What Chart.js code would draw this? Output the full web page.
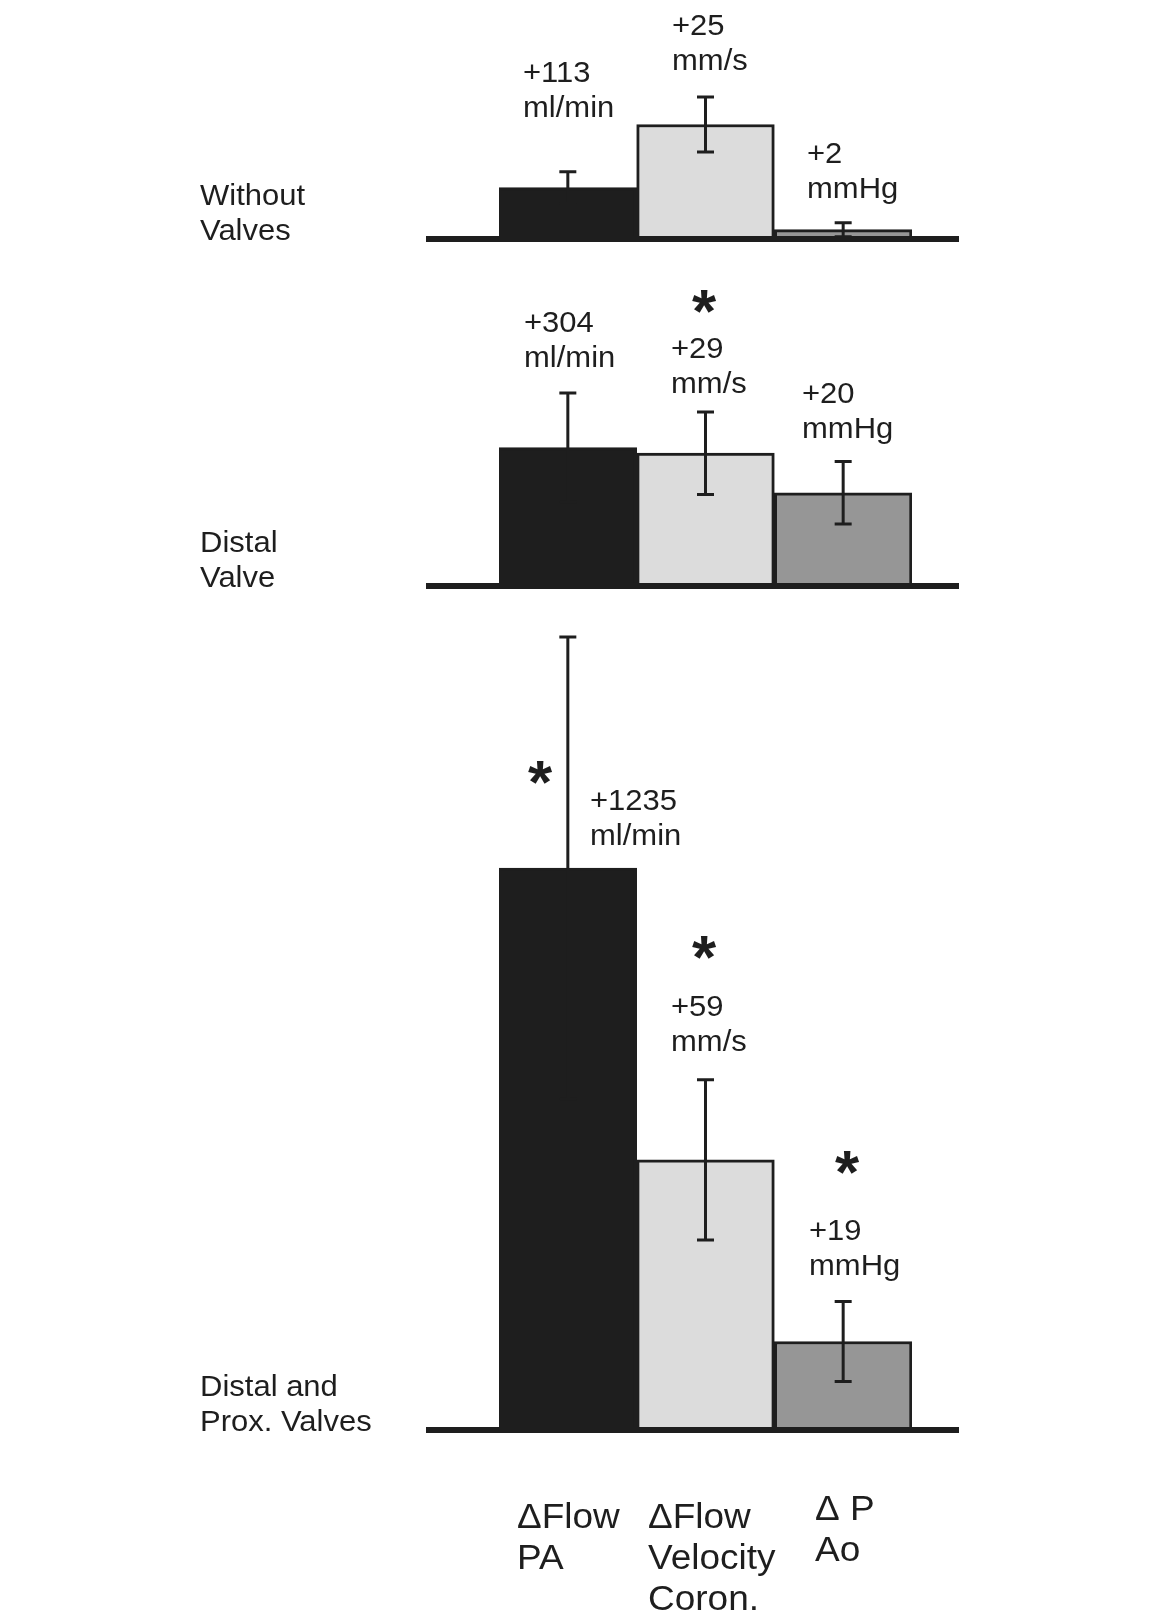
<!DOCTYPE html>
<html>
<head>
<meta charset="utf-8">
<script src="https://cdn.jsdelivr.net/npm/chart.js@4/dist/chart.umd.min.js"></script>
<style>
  html, body { margin: 0; padding: 0; background: #fff; }
  #page { position: relative; width: 1151px; height: 1617px; overflow: hidden; background: #fff; }
  #page canvas { position: absolute; left: 0; }
</style>
</head>
<body>
<div id="page">
  <canvas id="panel0"></canvas>
  <canvas id="panel1"></canvas>
  <canvas id="panel2"></canvas>
</div>
<script>
// ---- data ----
const categories = ['ΔFlow PA', 'ΔFlow Velocity Coron.', 'Δ P Ao'];
const categoryLines = [['ΔFlow', 'PA'], ['ΔFlow', 'Velocity', 'Coron.'], ['Δ P', 'Ao']];
const conditions = [['Without', 'Valves'], ['Distal', 'Valve'], ['Distal and', 'Prox. Valves']];
const units = ['ml/min', 'mm/s', 'mmHg'];

const flowPA = [113, 304, 1235];          // ml/min
const flowPA_SD = [35, 120, 508];
const velocityCoron = [25, 29, 59];       // mm/s
const velocityCoron_SD = [6, 9, 17.5];
const pressureAo = [2, 20, 19];           // mmHg
const pressureAo_SD = [1.5, 6.7, 8.6];
const significant = [
  [false, false, false],
  [false, true, false],
  [true, true, true]
];

// ---- layout & style ----
const W = 1151;
const PLOT_LEFT = 499, PLOT_RIGHT = 912;
const AXIS = { left: 426, right: 959, width: 6 };
const PX_PER_UNIT = { yFlow: 0.455, yVel: 4.58, yP: 4.66 };
const INK = '#1e1e1e';
const FILLS = ['#1e1e1e', '#dcdcdc', '#969696'];
const AXIS_IDS = ['yFlow', 'yVel', 'yP'];
const FONT = '"Liberation Sans", Arial, Helvetica, sans-serif';

const panels = [
  { top: 0, height: 260, base: 239, nameY: 205,
    labels: [[523, 82], [672, 35], [807, 163]],
    stars: [null, null, null] },
  { top: 260, height: 340, base: 586, nameY: 552,
    labels: [[524, 332], [671, 358], [802, 403]],
    stars: [null, [704, 301], null] },
  { top: 600, height: 1017, base: 1430, nameY: 1396,
    labels: [[590, 810], [671, 1016], [809, 1240]],
    stars: [[540, 772], [704, 947], [847, 1162]] }
];
const CAT_X = [517, 648, 815];
const CAT_Y = [1528, 1528, 1520];

const values = [flowPA, velocityCoron, pressureAo];
const sds = [flowPA_SD, velocityCoron_SD, pressureAo_SD];

function drawText(ctx, text, x, y, font, sx, sy) {
  ctx.save();
  ctx.translate(x, y);
  ctx.scale(sx, sy);
  ctx.font = font;
  ctx.fillText(text, 0, 0);
  ctx.restore();
}

// error bars drawn from each bar element and its own value scale
const errorBars = {
  id: 'errorBars',
  afterDatasetsDraw(chart) {
    const ctx = chart.ctx;
    const p = chart.options.plugins.errorBars.panel;
    ctx.save();
    ctx.strokeStyle = INK;
    ctx.lineWidth = 3;
    chart.data.datasets.forEach((ds, j) => {
      const el = chart.getDatasetMeta(j).data[j];
      const sc = chart.scales[ds.yAxisID];
      const v = values[j][p], sd = sds[j][p];
      const yt = sc.getPixelForValue(v + sd);
      const yb = sc.getPixelForValue(Math.max(0, v - sd));
      const x = el.x, cap = 8.5;
      ctx.beginPath();
      ctx.moveTo(x, yt); ctx.lineTo(x, yb);
      ctx.moveTo(x - cap, yt); ctx.lineTo(x + cap, yt);
      ctx.moveTo(x - cap, yb); ctx.lineTo(x + cap, yb);
      ctx.stroke();
    });
    ctx.restore();
  }
};

// baseline, value labels, significance marks, condition and category names
const annotations = {
  id: 'annotations',
  afterDraw(chart) {
    const ctx = chart.ctx;
    const p = chart.options.plugins.annotations.panel;
    const cfg = panels[p];
    const off = cfg.top;
    ctx.save();
    ctx.fillStyle = INK;
    // base line
    const zero = chart.scales.yFlow.getPixelForValue(0);
    ctx.fillRect(AXIS.left, zero - AXIS.width / 2, AXIS.right - AXIS.left, AXIS.width);

    ctx.textAlign = 'left';
    ctx.textBaseline = 'alphabetic';
    // value labels
    for (let j = 0; j < 3; j++) {
      const [lx, ly] = cfg.labels[j];
      drawText(ctx, '+' + values[j][p], lx, ly - off, '31px ' + FONT, 1, 0.96);
      drawText(ctx, units[j], lx, ly + 35 - off, '31px ' + FONT, 1, 0.96);
    }
    // significance asterisks
    ctx.font = 'bold 62px ' + FONT;
    ctx.textAlign = 'center';
    const m = ctx.measureText('*');
    const shift = (m.actualBoundingBoxAscent - m.actualBoundingBoxDescent) / 2;
    for (let j = 0; j < 3; j++) {
      if (significant[p][j] && cfg.stars[j]) {
        const [sx, sy] = cfg.stars[j];
        ctx.fillText('*', sx, sy - off + shift);
      }
    }
    // condition name
    ctx.textAlign = 'left';
    conditions[p].forEach((t, k) => {
      drawText(ctx, t, 200, cfg.nameY + k * 35 - off, '31px ' + FONT, 1, 0.98);
    });
    // category names under the last panel
    if (p === panels.length - 1) {
      categoryLines.forEach((lines, c) => {
        lines.forEach((t, k) => {
          drawText(ctx, t, CAT_X[c], CAT_Y[c] + k * 41 - off, '37px ' + FONT, 1, 0.93);
        });
      });
    }
    ctx.restore();
  }
};

panels.forEach((cfg, p) => {
  const canvas = document.getElementById('panel' + p);
  canvas.width = W;
  canvas.height = cfg.height;
  canvas.style.width = W + 'px';
  canvas.style.height = cfg.height + 'px';
  canvas.style.top = cfg.top + 'px';

  const baseLocal = cfg.base - cfg.top;
  const plotH = baseLocal;
  const scales = {
    x: { type: 'category', display: false, offset: true, grid: { display: false } }
  };
  AXIS_IDS.forEach(id => {
    scales[id] = { display: false, min: 0, max: plotH / PX_PER_UNIT[id], grid: { display: false } };
  });

  const datasets = AXIS_IDS.map((id, j) => ({
    label: categories[j],
    data: categories.map((_, c) => (c === j ? values[j][p] : null)),
    yAxisID: id,
    backgroundColor: FILLS[j],
    borderColor: INK,
    borderWidth: 3,
    borderSkipped: false,
    grouped: false,
    barPercentage: 1,
    categoryPercentage: 1
  }));

  new Chart(canvas, {
    type: 'bar',
    data: { labels: categories, datasets },
    options: {
      responsive: false,
      animation: false,
      devicePixelRatio: 1,
      layout: { padding: { left: PLOT_LEFT, right: W - PLOT_RIGHT, top: 0, bottom: cfg.height - baseLocal } },
      scales,
      plugins: {
        legend: { display: false },
        tooltip: { enabled: false },
        errorBars: { panel: p },
        annotations: { panel: p }
      }
    },
    plugins: [errorBars, annotations]
  });
});
</script>
</body>
</html>
